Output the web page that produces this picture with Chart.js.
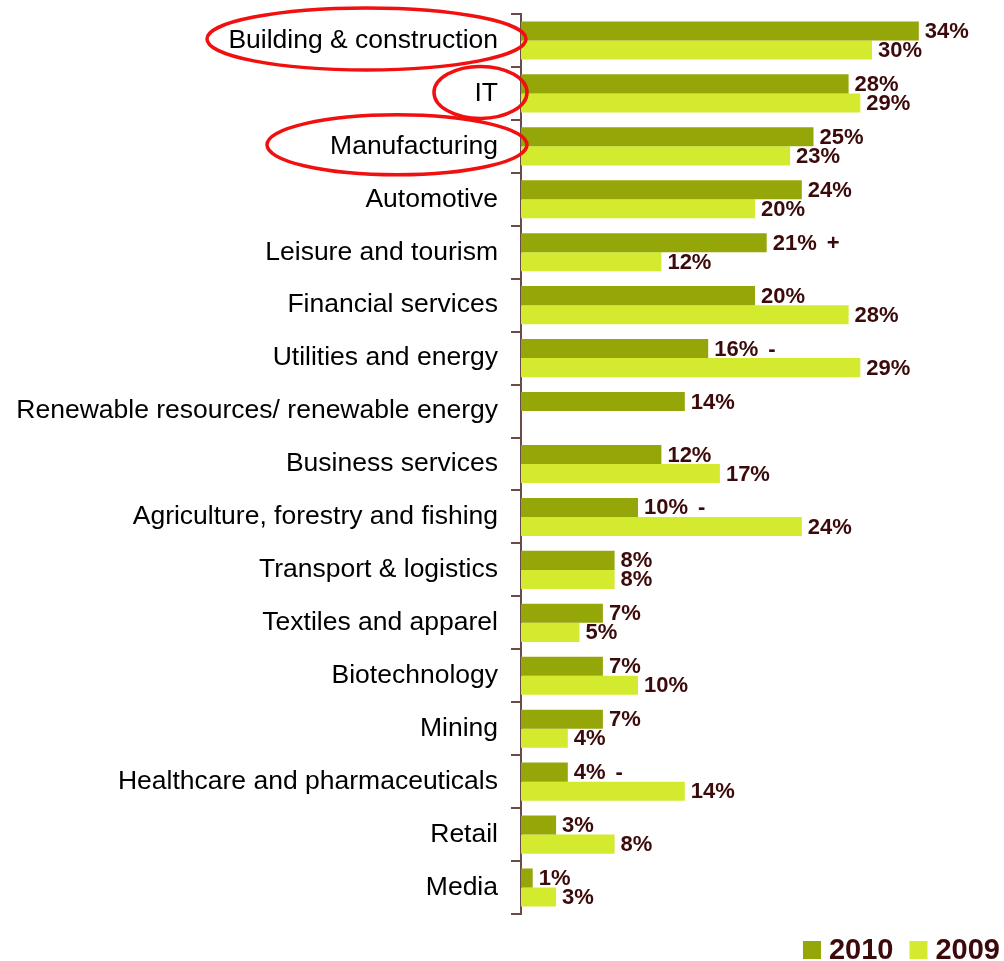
<!DOCTYPE html>
<html>
<head>
<meta charset="utf-8">
<style>
  html, body { margin: 0; padding: 0; background: #ffffff; }
  #wrap { position: relative; width: 1004px; height: 961px; }
</style>
<script src="https://cdn.jsdelivr.net/npm/chart.js@4.4.1/dist/chart.umd.min.js"></script>
</head>
<body>
<div id="wrap"><canvas id="chart" width="1004" height="961"></canvas></div>
<script>
// Sectors, top to bottom
const categories = [
  'Building & construction',
  'IT',
  'Manufacturing',
  'Automotive',
  'Leisure and tourism',
  'Financial services',
  'Utilities and energy',
  'Renewable resources/ renewable energy',
  'Business services',
  'Agriculture, forestry and fishing',
  'Transport & logistics',
  'Textiles and apparel',
  'Biotechnology',
  'Mining',
  'Healthcare and pharmaceuticals',
  'Retail',
  'Media'
];

// Share of respondents (%)
const values2010 = [34, 28, 25, 24, 21, 20, 16, 14, 12, 10, 8, 7, 7, 7, 4, 3, 1];
const values2009 = [30, 29, 23, 20, 12, 28, 29, null, 17, 24, 8, 5, 10, 4, 14, 8, 3];

// Significant change markers next to the 2010 values
const changes2010 = ['', '', '', '', '+', '', '-', '', '', '-', '', '', '', '', '-', '', ''];

// Sectors highlighted with a hand-drawn ring
const highlighted = ['Building & construction', 'IT', 'Manufacturing'];

const seriesLabels = ['2010', '2009'];
const COLOR_2010 = '#95a608';
const COLOR_2009 = '#d4ea2e';
const LABEL_COLOR = '#3c0a0a';
const AXIS_COLOR = '#6b4a4a';
const FONT = "'Liberation Sans', Arial, sans-serif";

// Value labels at the end of each bar
const valueLabels = {
  id: 'valueLabels',
  afterDatasetsDraw(chart) {
    const ctx = chart.ctx;
    ctx.save();
    ctx.font = 'bold 22px ' + FONT;
    ctx.fillStyle = LABEL_COLOR;
    ctx.textBaseline = 'middle';
    ctx.textAlign = 'left';
    chart.data.datasets.forEach((ds, di) => {
      const meta = chart.getDatasetMeta(di);
      meta.data.forEach((bar, i) => {
        const v = ds.data[i];
        if (v === null || v === undefined) return;
        const text = v + '%';
        const x = bar.x + 6;
        const y = bar.y + 1;
        ctx.fillText(text, x, y);
        const mark = di === 0 ? changes2010[i] : '';
        if (mark) {
          ctx.fillText(mark, x + ctx.measureText(text).width + 10, y);
        }
      });
    });
    ctx.restore();
  }
};

// Red rings around the highlighted sector names
const rings = {
  id: 'rings',
  afterDraw(chart, args, opts) {
    const ctx = chart.ctx;
    const yScale = chart.scales.y;
    ctx.save();
    ctx.strokeStyle = opts.color;
    ctx.lineWidth = opts.lineWidth;
    opts.items.forEach(item => {
      const idx = categories.indexOf(item.label);
      if (idx < 0) return;
      const cy = yScale.getPixelForValue(idx) + item.dy;
      const cx = (item.left + item.right) / 2;
      const rx = (item.right - item.left) / 2;
      ctx.beginPath();
      ctx.ellipse(cx, cy, rx, item.ry, 0, 0, Math.PI * 2);
      ctx.stroke();
    });
    ctx.restore();
  }
};

// Legend in the lower right corner
const cornerLegend = {
  id: 'cornerLegend',
  afterDraw(chart) {
    const ctx = chart.ctx;
    ctx.save();
    ctx.font = 'bold 29px ' + FONT;
    ctx.textBaseline = 'middle';
    const box = 18, gap = 8, spacing = 16;
    const items = chart.data.datasets.map(ds => ({
      text: ds.label, color: ds.backgroundColor, w: ctx.measureText(ds.label).width
    }));
    let total = 0;
    items.forEach((it, i) => { total += box + gap + it.w + (i ? spacing : 0); });
    let x = chart.width - 4 - total;
    const cy = 950;
    items.forEach(it => {
      ctx.fillStyle = it.color;
      ctx.fillRect(x, cy - box / 2, box, box);
      x += box + gap;
      ctx.fillStyle = LABEL_COLOR;
      ctx.fillText(it.text, x, cy + 1);
      x += it.w + spacing;
    });
    ctx.restore();
  }
};

new Chart(document.getElementById('chart'), {
  type: 'bar',
  data: {
    labels: categories,
    datasets: [
      { label: seriesLabels[0], data: values2010, backgroundColor: COLOR_2010,
        categoryPercentage: 0.72, barPercentage: 1.0 },
      { label: seriesLabels[1], data: values2009, backgroundColor: COLOR_2009,
        categoryPercentage: 0.72, barPercentage: 1.0 }
    ]
  },
  options: {
    indexAxis: 'y',
    responsive: false,
    animation: false,
    layout: { padding: { top: 14, bottom: 47, left: 0, right: 15 } },
    scales: {
      x: {
        display: false,
        min: 0,
        max: 40
      },
      y: {
        afterFit(scale) {
          scale.width = 521;
          scale.paddingTop = 0;
          scale.paddingBottom = 0;
        },
        grid: {
          display: true,
          drawOnChartArea: false,
          drawTicks: true,
          tickLength: 10,
          color: AXIS_COLOR,
          lineWidth: 2,
          offset: true
        },
        border: { display: true, color: AXIS_COLOR, width: 2 },
        ticks: {
          color: '#000000',
          padding: 13,
          font: { family: FONT, size: 26.5 }
        }
      }
    },
    plugins: {
      legend: { display: false },
      tooltip: { enabled: false },
      rings: {
        color: '#f01010',
        lineWidth: 3.5,
        items: [
          { label: highlighted[0], left: 207, right: 526, ry: 31, dy: -1.5 },
          { label: highlighted[1], left: 434, right: 527, ry: 26, dy: -1 },
          { label: highlighted[2], left: 267, right: 527, ry: 30, dy: -1.5 }
        ]
      }
    }
  },
  plugins: [valueLabels, rings, cornerLegend]
});
</script>
</body>
</html>
